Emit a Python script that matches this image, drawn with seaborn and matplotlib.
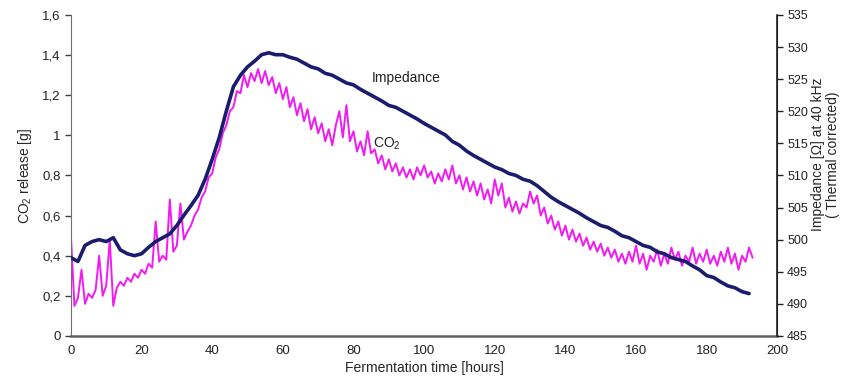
import numpy as np
import pandas as pd
import matplotlib
matplotlib.use("Agg")
import matplotlib.pyplot as plt
import seaborn as sns
from matplotlib.ticker import FixedLocator

sns.set_style("white")
plt.rcParams['font.family'] = ['Liberation Sans', 'DejaVu Sans']
plt.rcParams['mathtext.fontset'] = 'custom'
plt.rcParams['mathtext.rm'] = 'Liberation Sans'
plt.rcParams['mathtext.it'] = 'Liberation Sans'

# CO2 release [g], one reading per hour (t = 0 .. 193 h)
co2_hours = list(range(0, 194))
co2_release = [
    0.50, 0.15, 0.19, 0.33, 0.16, 0.21, 0.19, 0.23, 0.40, 0.20,
    0.25, 0.48, 0.15, 0.24, 0.27, 0.25, 0.29, 0.27, 0.31, 0.29,
    0.33, 0.31, 0.36, 0.34, 0.57, 0.37, 0.40, 0.38, 0.68, 0.42,
    0.45, 0.66, 0.48, 0.52, 0.55, 0.60, 0.63, 0.69, 0.72, 0.79,
    0.81, 0.89, 0.93, 1.01, 1.05, 1.12, 1.14, 1.22, 1.21, 1.30,
    1.24, 1.31, 1.27, 1.33, 1.26, 1.32, 1.25, 1.29, 1.21, 1.26,
    1.18, 1.24, 1.14, 1.19, 1.10, 1.16, 1.07, 1.13, 1.03, 1.09,
    1.01, 1.06, 0.97, 1.03, 0.95, 1.05, 1.12, 0.99, 1.15, 0.97,
    1.02, 0.92, 0.97, 0.90, 1.02, 0.91, 0.93, 0.86, 0.90, 0.83,
    0.88, 0.82, 0.86, 0.80, 0.84, 0.79, 0.83, 0.78, 0.84, 0.80,
    0.85, 0.79, 0.82, 0.76, 0.81, 0.77, 0.83, 0.78, 0.85, 0.76,
    0.80, 0.73, 0.79, 0.72, 0.77, 0.70, 0.76, 0.68, 0.73, 0.66,
    0.78, 0.70, 0.76, 0.64, 0.69, 0.62, 0.67, 0.61, 0.66, 0.64,
    0.72, 0.66, 0.70, 0.60, 0.64, 0.56, 0.60, 0.53, 0.57, 0.50,
    0.55, 0.48, 0.53, 0.47, 0.51, 0.45, 0.49, 0.43, 0.47, 0.42,
    0.46, 0.40, 0.44, 0.39, 0.43, 0.37, 0.41, 0.36, 0.42, 0.37,
    0.45, 0.36, 0.41, 0.33, 0.40, 0.37, 0.43, 0.35, 0.41, 0.36,
    0.44, 0.38, 0.42, 0.35, 0.40, 0.37, 0.44, 0.36, 0.41, 0.37,
    0.43, 0.36, 0.40, 0.35, 0.42, 0.37, 0.44, 0.36, 0.41, 0.33,
    0.40, 0.37, 0.44, 0.39,
]

# Impedance [Ohm] at 40 kHz, every 2 hours (t = 0 .. 192 h)
imp_hours = list(range(0, 193, 2))
impedance = [
    497.2, 496.6, 499.1, 499.7, 500.0, 499.7, 500.3, 498.4, 497.8, 497.5,
    497.8, 498.8, 499.7, 500.3, 500.9, 502.2, 503.8, 505.3, 506.9, 509.4,
    512.5, 515.9, 520.0, 523.8, 525.6, 526.9, 527.8, 528.8, 529.1, 528.8,
    528.8, 528.4, 528.1, 527.5, 526.9, 526.6, 525.9, 525.6, 525.0, 524.4,
    524.1, 523.4, 522.8, 522.2, 521.6, 520.9, 520.6, 520.0, 519.4, 518.8,
    518.1, 517.5, 516.9, 516.3, 515.3, 514.7, 513.8, 513.1, 512.5, 511.9,
    511.3, 510.9, 510.3, 510.0, 509.4, 509.1, 508.4, 507.5, 506.6, 505.9,
    505.3, 504.7, 504.1, 503.4, 502.8, 502.2, 501.9, 501.3, 500.6, 500.3,
    499.7, 499.1, 498.8, 498.1, 497.8, 497.2, 496.9, 496.6, 495.9, 495.3,
    494.4, 494.1, 493.4, 492.8, 492.5, 491.9, 491.6,
]

x_ticks = [0, 20, 40, 60, 80, 100, 120, 140, 160, 180, 200]
y_ticks = [0, 0.2, 0.4, 0.6, 0.8, 1.0, 1.2, 1.4, 1.6]
y_tick_labels = ['0', '0,2', '0,4', '0,6', '0,8', '1', '1,2', '1,4', '1,6']
y2_ticks = [485, 490, 495, 500, 505, 510, 515, 520, 525, 530, 535]

co2_df = pd.DataFrame({'time': co2_hours, 'co2': co2_release})
imp_df = pd.DataFrame({'time': imp_hours, 'imp': impedance})

fig = plt.figure(figsize=(8.44, 3.92), dpi=100)
ax = fig.add_axes([0.084, 0.143, 0.837, 0.819])
ax2 = ax.twinx()

sns.lineplot(data=co2_df, x='time', y='co2', ax=ax, color='#f21af2', linewidth=1.4)
sns.lineplot(data=imp_df, x='time', y='imp', ax=ax2, color='#1c1c6e', linewidth=2.6)

ax.set_xlim(0, 200)
ax.set_ylim(0, 1.6)
ax2.set_ylim(485, 535)
ax.xaxis.set_major_locator(FixedLocator(x_ticks))
ax.set_yticks(y_ticks)
ax.set_yticklabels(y_tick_labels)
ax2.set_yticks(y2_ticks)

ax.spines['top'].set_visible(False)
ax2.spines['top'].set_visible(False)
ax.spines['left'].set_color('#707070')
ax.spines['bottom'].set_color('#606060')
ax.spines['bottom'].set_linewidth(1.8)
ax2.spines['right'].set_color('#202020')
ax2.spines['right'].set_linewidth(1.2)
ax2.spines['left'].set_visible(False)
ax2.spines['bottom'].set_visible(False)

ax.tick_params(axis='x', direction='inout', length=6, width=1, colors='#404040', labelsize=9.5, labelcolor='#222222')
ax.tick_params(axis='y', direction='out', length=4, width=1, colors='#404040', labelsize=9.5, labelcolor='#222222', left=True)
ax2.tick_params(axis='y', direction='out', length=4, width=1, pad=3, colors='#202020', labelsize=9, labelcolor='#222222', right=True)

ax.set_xlabel('Fermentation time [hours]', fontsize=10, labelpad=3)
ax.set_ylabel('CO$_2$ release [g]', fontsize=10, labelpad=6)
ax2.set_ylabel('Impedance [\u03a9] at 40 kHz\n( Thermal corrected)', fontsize=10,
               linespacing=1.05, multialignment='center')
ax2.yaxis.set_label_coords(1.048, 0.565)

ax.text(94.9, 1.286, 'Impedance', fontsize=10, ha='center', va='center', color='#222222')
ax.text(85.5, 0.96, 'CO$_2$', fontsize=10, ha='left', va='center', color='#222222')

fig.savefig('out.png', dpi=100)
